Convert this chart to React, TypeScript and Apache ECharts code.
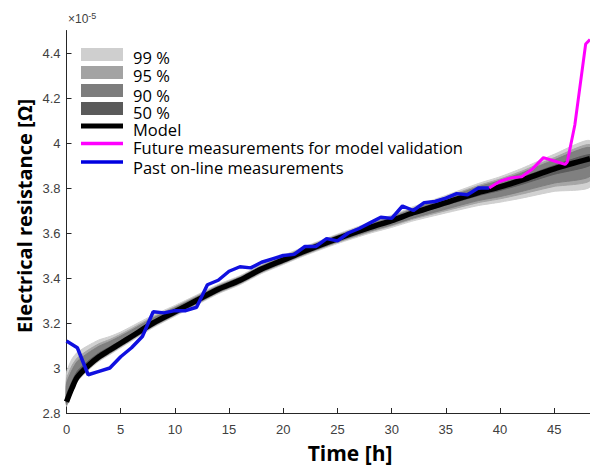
import React, { useEffect, useRef } from "react";
import * as echarts from "echarts";

// Model time grid (h) and model resistance (x1e-5 Ohm)
const T = [0, 0.5, 1, 2, 3, 4, 5, 6, 8, 10, 12, 14, 16, 18, 20, 22, 25, 28, 30, 32, 35, 38, 40, 42, 45, 48.3];
const MODEL = [2.85, 2.91, 2.96, 3.01, 3.05, 3.08, 3.11, 3.14, 3.2, 3.25, 3.3, 3.35, 3.39, 3.44, 3.48, 3.52, 3.575, 3.625, 3.655, 3.69, 3.735, 3.78, 3.805, 3.835, 3.885, 3.93];

// Band offsets above / below the model
const UP99 = [0.13, 0.13, 0.11, 0.09, 0.075, 0.06, 0.05, 0.045, 0.035, 0.028, 0.024, 0.022, 0.02, 0.02, 0.02, 0.02, 0.02, 0.022, 0.024, 0.027, 0.032, 0.04, 0.045, 0.052, 0.065, 0.08];
const LO99 = [0.02, 0.02, 0.02, 0.02, 0.02, 0.02, 0.02, 0.02, 0.02, 0.02, 0.02, 0.02, 0.02, 0.02, 0.02, 0.02, 0.022, 0.026, 0.03, 0.036, 0.046, 0.058, 0.068, 0.08, 0.1, 0.125];
const UP95 = [0.1, 0.1, 0.085, 0.07, 0.058, 0.047, 0.04, 0.035, 0.028, 0.022, 0.019, 0.017, 0.016, 0.016, 0.016, 0.016, 0.016, 0.017, 0.019, 0.021, 0.025, 0.031, 0.035, 0.04, 0.05, 0.062];
const LO95 = [0.016, 0.016, 0.016, 0.016, 0.016, 0.016, 0.016, 0.016, 0.016, 0.016, 0.016, 0.016, 0.016, 0.016, 0.016, 0.016, 0.017, 0.02, 0.023, 0.028, 0.036, 0.045, 0.053, 0.062, 0.078, 0.097];
const UP90 = [0.08, 0.08, 0.07, 0.057, 0.047, 0.038, 0.032, 0.028, 0.022, 0.018, 0.015, 0.014, 0.013, 0.013, 0.013, 0.013, 0.013, 0.014, 0.015, 0.017, 0.02, 0.025, 0.028, 0.032, 0.04, 0.05];
const LO90 = [0.013, 0.013, 0.013, 0.013, 0.013, 0.013, 0.013, 0.013, 0.013, 0.013, 0.013, 0.013, 0.013, 0.013, 0.013, 0.013, 0.014, 0.016, 0.019, 0.023, 0.029, 0.036, 0.043, 0.05, 0.063, 0.078];
const UP50 = [0.03, 0.03, 0.026, 0.021, 0.017, 0.014, 0.012, 0.01, 0.008, 0.007, 0.006, 0.005, 0.005, 0.005, 0.005, 0.005, 0.005, 0.005, 0.006, 0.006, 0.007, 0.009, 0.01, 0.012, 0.015, 0.019];
const LO50 = [0.005, 0.005, 0.005, 0.005, 0.005, 0.005, 0.005, 0.005, 0.005, 0.005, 0.005, 0.005, 0.005, 0.005, 0.005, 0.005, 0.005, 0.006, 0.007, 0.008, 0.011, 0.014, 0.016, 0.019, 0.024, 0.03];

// Past on-line measurements
const PAST_T = [0, 1, 2, 3, 4, 5, 6, 7, 8, 9, 10, 11, 12, 13, 14, 15, 16, 17, 18, 19, 20, 21, 22, 23, 24, 25, 26, 27, 28, 29, 30, 31, 32, 33, 34, 35, 36, 37, 38, 39];
const PAST_V = [3.12, 3.09, 2.97, 2.985, 3.0, 3.05, 3.09, 3.14, 3.25, 3.245, 3.255, 3.255, 3.27, 3.37, 3.39, 3.43, 3.45, 3.445, 3.47, 3.485, 3.5, 3.505, 3.54, 3.54, 3.575, 3.565, 3.6, 3.62, 3.645, 3.67, 3.665, 3.72, 3.7, 3.735, 3.74, 3.755, 3.775, 3.77, 3.8, 3.8];

// Future measurements for model validation
const FUT_T = [39, 40, 41, 42, 43, 44, 45, 46, 46.2, 46.9, 47.9, 48.3];
const FUT_V = [3.8, 3.83, 3.845, 3.85, 3.885, 3.935, 3.92, 3.905, 3.915, 4.08, 4.44, 4.46];

const Y_TICKS = [2.8, 3, 3.2, 3.4, 3.6, 3.8, 4, 4.2, 4.4];
const X_TICKS = [0, 5, 10, 15, 20, 25, 30, 35, 40, 45];

const BANDS = [
  { name: "99 %", up: UP99, lo: LO99, color: "#cfcfcf" },
  { name: "95 %", up: UP95, lo: LO95, color: "#a3a3a3" },
  { name: "90 %", up: UP90, lo: LO90, color: "#7d7d7d" },
  { name: "50 %", up: UP50, lo: LO50, color: "#5a5a5a" },
];

const LEGEND_FONT = "'Open Sans', 'Noto Sans', sans-serif";
const AXIS_FONT = "'Liberation Sans', Arial, sans-serif";

export default function App() {
  const ref = useRef<HTMLDivElement>(null);
  useEffect(() => {
    if (!ref.current) return;
    const chart = echarts.init(ref.current, null, { renderer: "svg" });

    const bandSeries = BANDS.map((b) => ({
      type: "custom",
      name: b.name,
      silent: true,
      z: 1,
      data: [[0, 3]],
      renderItem: (_params: any, api: any) => {
        const pts: number[][] = [];
        for (let i = 0; i < T.length; i++) pts.push(api.coord([T[i], MODEL[i] + b.up[i]]));
        for (let i = T.length - 1; i >= 0; i--) pts.push(api.coord([T[i], MODEL[i] - b.lo[i]]));
        return {
          type: "polygon",
          shape: { points: pts, smooth: 0.2 },
          style: { fill: b.color, stroke: b.color, lineWidth: 1, opacity: 0.95 },
        };
      },
    }));

    const legendItems: any[] = [];
    const swY = [48, 66, 84, 102];
    BANDS.forEach((b, i) => {
      legendItems.push({ type: "rect", shape: { x: 81, y: swY[i], width: 42, height: 13 }, style: { fill: b.color } });
    });
    legendItems.push({ type: "line", shape: { x1: 81, y1: 126, x2: 123, y2: 126 }, style: { stroke: "#000", lineWidth: 5 } });
    legendItems.push({ type: "line", shape: { x1: 81, y1: 143.5, x2: 123, y2: 143.5 }, style: { stroke: "#ff00ff", lineWidth: 3.5 } });
    legendItems.push({ type: "line", shape: { x1: 81, y1: 162, x2: 123, y2: 162 }, style: { stroke: "#0000e0", lineWidth: 3.5 } });
    const legTexts = [
      ["99 %", 57],
      ["95 %", 75],
      ["90 %", 95],
      ["50 %", 112],
      ["Model", 129],
      ["Future measurements for model validation", 147],
      ["Past on-line measurements", 167],
    ];
    legTexts.forEach(([t, y]) => {
      legendItems.push({
        type: "text",
        x: 133,
        y: y as number,
        style: { text: t as string, font: `16.5px ${LEGEND_FONT}`, fill: "#000", verticalAlign: "middle", align: "left" },
      });
    });

    chart.setOption({
      animation: false,
      backgroundColor: "#fff",
      grid: { left: 66.5, right: 0, top: 30.5, bottom: 55, containLabel: false },
      xAxis: {
        type: "value",
        min: 0,
        max: 48.3,
        axisLine: { show: true, lineStyle: { color: "#262626", width: 1 } },
        axisTick: { show: true, inside: true, length: 5, customValues: X_TICKS, lineStyle: { color: "#262626" } },
        axisLabel: { customValues: X_TICKS, color: "#404040", fontSize: 13, fontFamily: AXIS_FONT, margin: 10 },
        splitLine: { show: false },
      },
      yAxis: {
        type: "value",
        min: 2.8,
        max: 4.5,
        axisLine: { show: true, lineStyle: { color: "#262626", width: 1 } },
        axisTick: { show: true, inside: true, length: 5, customValues: Y_TICKS, lineStyle: { color: "#262626" } },
        axisLabel: {
          customValues: Y_TICKS,
          color: "#404040",
          fontSize: 13,
          fontFamily: AXIS_FONT,
          margin: 6,
          formatter: (v: number) => String(Math.round(v * 10) / 10),
        },
        splitLine: { show: false },
      },
      series: [
        ...bandSeries,
        {
          type: "line",
          name: "Model",
          data: T.map((t, i) => [t, MODEL[i]]),
          smooth: 0.3,
          symbol: "none",
          z: 3,
          lineStyle: { color: "#000", width: 5.5 },
        },
        {
          type: "line",
          name: "Past on-line measurements",
          data: PAST_T.map((t, i) => [t, PAST_V[i]]),
          symbol: "none",
          z: 4,
          lineStyle: { color: "#1010e0", width: 3.5 },
        },
        {
          type: "line",
          name: "Future measurements for model validation",
          data: FUT_T.map((t, i) => [t, FUT_V[i]]),
          symbol: "none",
          z: 4,
          lineStyle: { color: "#ff00ff", width: 3 },
        },
      ],
      graphic: [
        {
          type: "text",
          x: 68,
          y: 11,
          style: {
            text: "×10{s|-5}",
            rich: { s: { fontSize: 9, fontFamily: AXIS_FONT, fill: "#404040", verticalAlign: "top", padding: [0, 0, 6, 0] } },
            font: `12px ${AXIS_FONT}`,
            fill: "#404040",
          },
        },
        {
          type: "text",
          x: 24,
          y: 216,
          rotation: Math.PI / 2,
          style: {
            text: "Electrical resistance [Ω]",
            font: `bold 20px ${LEGEND_FONT}`,
            fill: "#000",
            align: "center",
            verticalAlign: "middle",
          },
        },
        {
          type: "text",
          x: 350,
          y: 453,
          style: {
            text: "Time [h]",
            font: `bold 21px ${LEGEND_FONT}`,
            fill: "#000",
            align: "center",
            verticalAlign: "middle",
          },
        },
        ...legendItems,
      ],
    });
    return () => chart.dispose();
  }, []);
  return <div ref={ref} style={{ width: 590, height: 468, position: "absolute", left: 0, top: 0 }} />;
}
